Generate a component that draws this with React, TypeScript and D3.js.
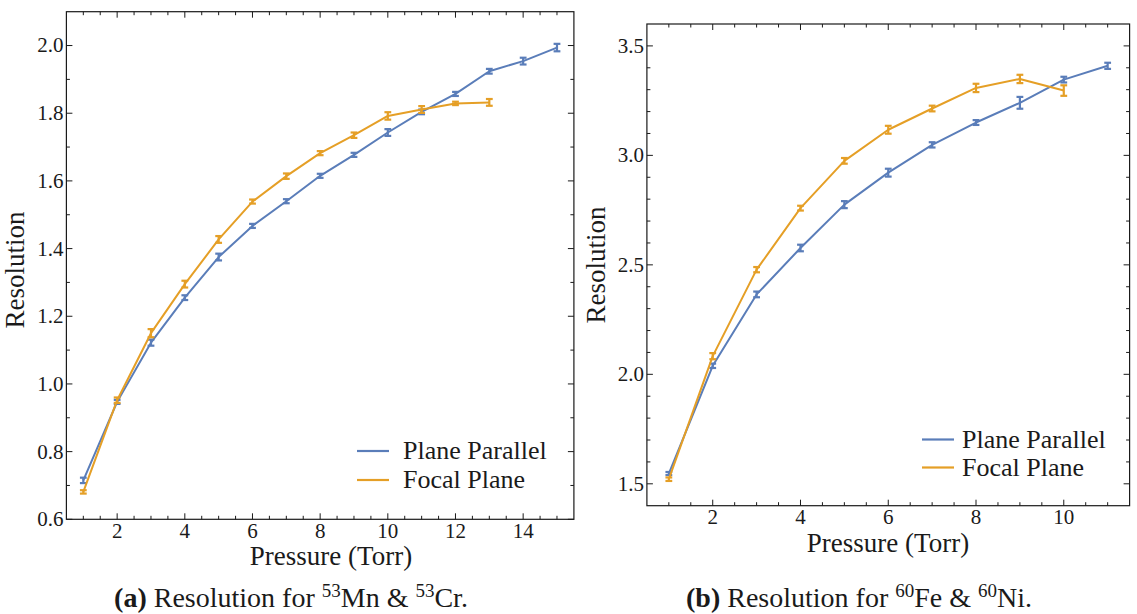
import React from 'react';
import * as d3 from 'd3';

// ---------- Data ----------
const pressureA = [1, 2, 3, 4, 5, 6, 7, 8, 9, 10, 11, 12, 13, 14, 15];
const planeParallelA = [0.715, 0.947, 1.122, 1.255, 1.375, 1.467, 1.540, 1.615, 1.677, 1.743, 1.804, 1.857, 1.924, 1.954, 1.994];
const planeParallelAErr = [0.008, 0.006, 0.009, 0.007, 0.010, 0.006, 0.006, 0.006, 0.006, 0.010, 0.007, 0.006, 0.007, 0.010, 0.011];
const focalPlaneA = [0.681, 0.952, 1.150, 1.295, 1.427, 1.539, 1.614, 1.682, 1.735, 1.792, 1.811, 1.829, 1.832];
const focalPlaneAErr = [0.005, 0.008, 0.012, 0.010, 0.010, 0.006, 0.008, 0.006, 0.008, 0.011, 0.010, 0.005, 0.010];

const pressureB = [1, 2, 3, 4, 5, 6, 7, 8, 9, 10, 11];
const planeParallelB = [1.547, 2.039, 2.365, 2.577, 2.775, 2.921, 3.048, 3.150, 3.240, 3.346, 3.409];
const planeParallelBErr = [0.007, 0.010, 0.013, 0.015, 0.016, 0.018, 0.012, 0.011, 0.027, 0.013, 0.014];
const focalPlaneB = [1.521, 2.083, 2.478, 2.759, 2.975, 3.117, 3.214, 3.308, 3.349, 3.296];
const focalPlaneBErr = [0.008, 0.014, 0.012, 0.011, 0.013, 0.018, 0.013, 0.019, 0.019, 0.024];

const xTicksA = [2, 4, 6, 8, 10, 12, 14];
const yTicksA = [0.6, 0.8, 1.0, 1.2, 1.4, 1.6, 1.8, 2.0];
const xTicksB = [2, 4, 6, 8, 10];
const yTicksB = [1.5, 2.0, 2.5, 3.0, 3.5];

const seriesNames = ['Plane Parallel', 'Focal Plane'];
const seriesColors = ['#5a7db9', '#e59f26'];
const xLabel = 'Pressure (Torr)';
const yLabel = 'Resolution';

const FONT = '"Liberation Serif", "DejaVu Serif", serif';
const INK = '#1a1a1a';
const TICK_FS = 21;
const LABEL_FS = 27;
const LEGEND_FS = 26;
const CAPTION_FS = 28;

type Series = { x: number[]; y: number[]; err: number[]; color: string; name: string };

type PanelProps = {
  frame: { left: number; right: number; top: number; bottom: number };
  xDomain: [number, number];
  yDomain: [number, number];
  xTicks: number[];
  yTicks: number[];
  xMinor: number[];
  yMinor: number[];
  series: Series[];
  legend: { lineX0: number; lineX1: number; textX: number; y0: number; dy: number };
  xLabelPos: { x: number; y: number };
  xTickBaseline: number;
  yLabelPos: { x: number; y: number };
  caption: { x: number; y: number; tag: string; pre: string; iso1: string; el1: string; iso2: string; el2: string };
};

function Panel(p: PanelProps) {
  const { frame } = p;
  const x = d3.scaleLinear().domain(p.xDomain).range([frame.left, frame.right]);
  const y = d3.scaleLinear().domain(p.yDomain).range([frame.bottom, frame.top]);
  const fmt = d3.format('.1f');
  const line = d3
    .line<[number, number]>()
    .x((d) => x(d[0]))
    .y((d) => y(d[1]));
  const MAJ = 6;
  const MIN = 3.5;
  const capW = 3.4;
  return (
    <g>
      {p.series.map((s, si) => {
        const pts: [number, number][] = s.y.map((v, i) => [s.x[i], v]);
        return (
          <g key={'s' + si}>
            <path d={line(pts) || ''} fill="none" stroke={s.color} strokeWidth={2} strokeLinejoin="round" />
            {pts.map((d, i) => {
              const cx = x(d[0]);
              const ylo = y(d[1] - s.err[i]);
              const yhi = y(d[1] + s.err[i]);
              return (
                <g key={i} stroke={s.color} strokeWidth={2.2}>
                  <line x1={cx} x2={cx} y1={ylo} y2={yhi} />
                  <line x1={cx - capW} x2={cx + capW} y1={ylo} y2={ylo} />
                  <line x1={cx - capW} x2={cx + capW} y1={yhi} y2={yhi} />
                </g>
              );
            })}
          </g>
        );
      })}
      <rect
        x={frame.left}
        y={frame.top}
        width={frame.right - frame.left}
        height={frame.bottom - frame.top}
        fill="none"
        stroke={INK}
        strokeWidth={1.2}
      />
      <g stroke={INK} strokeWidth={1}>
        {p.xTicks.map((t) => (
          <g key={'xt' + t}>
            <line x1={x(t)} x2={x(t)} y1={frame.bottom} y2={frame.bottom - MAJ} />
            <line x1={x(t)} x2={x(t)} y1={frame.top} y2={frame.top + MAJ} />
          </g>
        ))}
        {p.xMinor.map((t) => (
          <g key={'xm' + t}>
            <line x1={x(t)} x2={x(t)} y1={frame.bottom} y2={frame.bottom - MIN} />
            <line x1={x(t)} x2={x(t)} y1={frame.top} y2={frame.top + MIN} />
          </g>
        ))}
        {p.yTicks.map((t) => (
          <g key={'yt' + t}>
            <line x1={frame.left} x2={frame.left + MAJ} y1={y(t)} y2={y(t)} />
            <line x1={frame.right} x2={frame.right - MAJ} y1={y(t)} y2={y(t)} />
          </g>
        ))}
        {p.yMinor.map((t) => (
          <g key={'ym' + t}>
            <line x1={frame.left} x2={frame.left + MIN} y1={y(t)} y2={y(t)} />
            <line x1={frame.right} x2={frame.right - MIN} y1={y(t)} y2={y(t)} />
          </g>
        ))}
      </g>
      <g style={{ fontFamily: FONT }} fill={INK} fontSize={TICK_FS}>
        {p.xTicks.map((t) => (
          <text key={'xl' + t} x={x(t)} y={p.xTickBaseline} textAnchor="middle">
            {t}
          </text>
        ))}
        {p.yTicks.map((t) => (
          <text key={'yl' + t} x={frame.left - 3} y={y(t)} dy="0.33em" textAnchor="end">
            {fmt(t)}
          </text>
        ))}
      </g>
      <text x={p.xLabelPos.x} y={p.xLabelPos.y} textAnchor="middle" style={{ fontFamily: FONT }} fontSize={LABEL_FS} fill={INK}>
        {xLabel}
      </text>
      <text
        transform={`translate(${p.yLabelPos.x},${p.yLabelPos.y}) rotate(-90)`}
        textAnchor="middle"
        style={{ fontFamily: FONT }}
        fontSize={LABEL_FS}
        fill={INK}
      >
        {yLabel}
      </text>
      {p.series.map((s, i) => (
        <g key={'lg' + i}>
          <line
            x1={p.legend.lineX0}
            x2={p.legend.lineX1}
            y1={p.legend.y0 + i * p.legend.dy}
            y2={p.legend.y0 + i * p.legend.dy}
            stroke={s.color}
            strokeWidth={2.2}
          />
          <text
            x={p.legend.textX}
            y={p.legend.y0 + i * p.legend.dy}
            dy="0.31em"
            style={{ fontFamily: FONT }}
            fontSize={LEGEND_FS}
            fill={INK}
          >
            {s.name}
          </text>
        </g>
      ))}
      <text x={p.caption.x} y={p.caption.y} textAnchor="middle" style={{ fontFamily: FONT }} fontSize={CAPTION_FS} fill={INK}>
        <tspan fontWeight="bold">{p.caption.tag}</tspan>
        <tspan>{' ' + p.caption.pre + ' '}</tspan>
        <tspan fontSize={19} dy={-10}>{p.caption.iso1}</tspan>
        <tspan dy={10}>{p.caption.el1 + ' & '}</tspan>
        <tspan fontSize={19} dy={-10}>{p.caption.iso2}</tspan>
        <tspan dy={10}>{p.caption.el2}</tspan>
      </text>
    </g>
  );
}

function minorTicks(start: number, end: number, step: number, majors: number[]) {
  return d3
    .range(start, end + step / 2, step)
    .map((v) => Math.round(v * 1000) / 1000)
    .filter((v) => !majors.some((m) => Math.abs(m - v) < 1e-6));
}

export default function App() {
  const seriesA: Series[] = [
    { x: pressureA, y: planeParallelA, err: planeParallelAErr, color: seriesColors[0], name: seriesNames[0] },
    { x: pressureA.slice(0, focalPlaneA.length), y: focalPlaneA, err: focalPlaneAErr, color: seriesColors[1], name: seriesNames[1] },
  ];
  const seriesB: Series[] = [
    { x: pressureB, y: planeParallelB, err: planeParallelBErr, color: seriesColors[0], name: seriesNames[0] },
    { x: pressureB.slice(0, focalPlaneB.length), y: focalPlaneB, err: focalPlaneBErr, color: seriesColors[1], name: seriesNames[1] },
  ];
  return (
    <svg
      width={1137}
      height={614}
      viewBox="0 0 1137 614"
      style={{ position: 'absolute', left: 0, top: 0, background: '#fff' }}
    >
      <rect width={1137} height={614} fill="#fff" />
      <Panel
        frame={{ left: 66.4, right: 573.9, top: 11.7, bottom: 519.3 }}
        xDomain={[0.5, 15.5]}
        yDomain={[0.6, 2.1]}
        xTicks={xTicksA}
        yTicks={yTicksA}
        xMinor={minorTicks(1, 15, 0.5, xTicksA)}
        yMinor={minorTicks(0.7, 2.0, 0.1, yTicksA)}
        series={seriesA}
        legend={{ lineX0: 357, lineX1: 389, textX: 403, y0: 451, dy: 29 }}
        xLabelPos={{ x: 331, y: 565 }}
        xTickBaseline={538}
        yLabelPos={{ x: 24, y: 270 }}
        caption={{ x: 291, y: 607, tag: '(a)', pre: 'Resolution for', iso1: '53', el1: 'Mn', iso2: '53', el2: 'Cr.' }}
      />
      <Panel
        frame={{ left: 646.9, right: 1129.6, top: 24, bottom: 505.7 }}
        xDomain={[0.5, 11.5]}
        yDomain={[1.4, 3.6]}
        xTicks={xTicksB}
        yTicks={yTicksB}
        xMinor={minorTicks(1, 11, 0.5, xTicksB)}
        yMinor={minorTicks(1.5, 3.5, 0.1, yTicksB)}
        series={seriesB}
        legend={{ lineX0: 922, lineX1: 954, textX: 962, y0: 439.5, dy: 28 }}
        xLabelPos={{ x: 888, y: 552 }}
        xTickBaseline={524}
        yLabelPos={{ x: 605, y: 265 }}
        caption={{ x: 859, y: 607, tag: '(b)', pre: 'Resolution for', iso1: '60', el1: 'Fe', iso2: '60', el2: 'Ni.' }}
      />
    </svg>
  );
}
